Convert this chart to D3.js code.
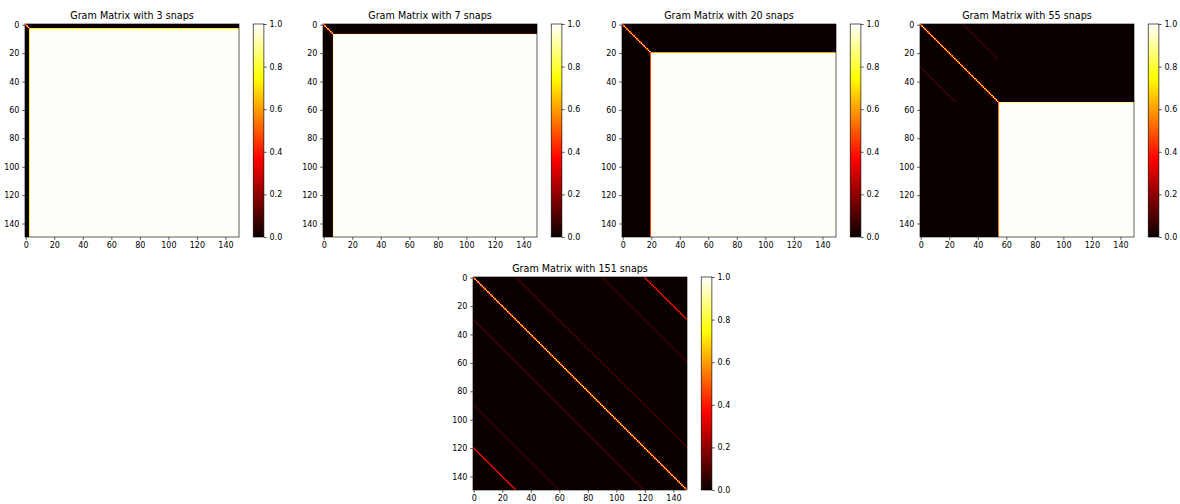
<!DOCTYPE html>
<html>
<head>
<meta charset="utf-8">
<script src="https://cdn.jsdelivr.net/npm/d3@7"></script>
<style>
  html, body { margin: 0; padding: 0; background: #ffffff; }
  svg { display: block; }
  text { font-family: "DejaVu Sans", sans-serif; }
</style>
</head>
<body>
<svg id="chart" width="1180" height="504"></svg>
<script>
// ---------------- data ----------------
const snapCounts = [3, 7, 20, 55, 151];          // snapshots per panel
const matrixSize = 150;                           // rows / columns of every Gram matrix
const bandOffsets = [0, 30, 90, 120];             // |i - j| of the non-zero bands in the snapshot block
const bandValues  = [1.0, 0.12, 0.11, 0.5];       // value of each band
const outsideValue = 0.0;                         // rows/cols mixing snapshot and padding
const paddingValue = 0.995;                       // padding block (i, j >= snaps)
const axisTicks = [0, 20, 40, 60, 80, 100, 120, 140];
const colorTicks = [0.0, 0.2, 0.4, 0.6, 0.8, 1.0];
const hotStops = [0, 0.365079, 0.746032, 1];
const hotColors = ["#0b0000", "#ff0000", "#ffff00", "#ffffff"];

// ---------------- layout ----------------
const W = 214, H = 213;
const panels = [
  {left: 25,  top: 24},
  {left: 323, top: 24},
  {left: 622, top: 24},
  {left: 920, top: 24},
  {left: 473, top: 277}
];
const cbGap = 14.2, cbWidth = 10.7;
const tickLen = 2.8, tickPad = 2.8, lw = 0.64;

const svg = d3.select("#chart");
const hot = d3.scaleLinear().domain(hotStops).range(hotColors).interpolate(d3.interpolateRgb).clamp(true);

// colorbar gradient
const defs = svg.append("defs");
const grad = defs.append("linearGradient").attr("id", "hotgrad")
  .attr("x1", 0).attr("y1", 1).attr("x2", 0).attr("y2", 0);
grad.selectAll("stop").data(hotStops).join("stop")
  .attr("offset", d => d)
  .attr("stop-color", d => hot(d));

function gramValue(n, i, j) {
  if (i < n && j < n) {
    const k = bandOffsets.indexOf(Math.abs(i - j));
    return k >= 0 ? bandValues[k] : 0;
  }
  if (i >= n && j >= n) return paddingValue;
  return outsideValue;
}

function buildMatrix(n) {
  const M = new Float32Array(matrixSize * matrixSize);
  for (let i = 0; i < matrixSize; i++)
    for (let j = 0; j < matrixSize; j++)
      M[i * matrixSize + j] = gramValue(n, i, j);
  return M;
}

// hanning interpolation weights for a sample at data coordinate t
function weights(t) {
  const i0 = Math.floor(t);
  const f = t - i0;
  const w0 = 0.5 + 0.5 * Math.cos(Math.PI * f);
  const a = Math.max(0, Math.min(matrixSize - 1, i0));
  const b = Math.max(0, Math.min(matrixSize - 1, i0 + 1));
  return [[a, w0], [b, 1 - w0]];
}

function renderImage(M, xScale, yScale) {
  const canvas = document.createElement("canvas");
  canvas.width = W; canvas.height = H;
  const ctx = canvas.getContext("2d");
  const img = ctx.createImageData(W, H);
  const wx = d3.range(W).map(px => weights(xScale.invert(px + 0.5)));
  const wy = d3.range(H).map(py => weights(yScale.invert(py + 0.5)));
  for (let py = 0; py < H; py++) {
    for (let px = 0; px < W; px++) {
      let v = 0;
      for (const [r, a] of wy[py])
        for (const [c, b] of wx[px])
          v += a * b * M[r * matrixSize + c];
      const col = d3.rgb(hot(v));
      const o = (py * W + px) * 4;
      img.data[o] = col.r; img.data[o + 1] = col.g; img.data[o + 2] = col.b; img.data[o + 3] = 255;
    }
  }
  ctx.putImageData(img, 0, 0);
  return canvas.toDataURL();
}

function styleAxis(g) {
  g.select(".domain").remove();
  g.selectAll(".tick line").attr("stroke", "#000").attr("stroke-width", lw);
  g.selectAll(".tick text").attr("fill", "#000").style("font-size", "8px")
    .style("font-family", "'DejaVu Sans', sans-serif");
}

snapCounts.forEach((n, idx) => {
  const p = panels[idx];
  const g = svg.append("g").attr("transform", `translate(${p.left},${p.top})`);
  const xScale = d3.scaleLinear().domain([-0.5, matrixSize - 0.5]).range([0, W]);
  const yScale = d3.scaleLinear().domain([-0.5, matrixSize - 0.5]).range([0, H]);

  const M = buildMatrix(n);
  g.append("image")
    .attr("x", 0).attr("y", 0).attr("width", W).attr("height", H)
    .attr("preserveAspectRatio", "none")
    .style("image-rendering", "pixelated")
    .attr("href", renderImage(M, xScale, yScale));

  g.append("rect").attr("width", W).attr("height", H)
    .attr("fill", "none").attr("stroke", "#000").attr("stroke-width", lw);

  g.append("g").attr("transform", `translate(0,${H})`)
    .call(d3.axisBottom(xScale).tickValues(axisTicks).tickSize(tickLen).tickPadding(tickPad).tickFormat(d3.format("d")))
    .call(styleAxis);
  g.append("g")
    .call(d3.axisLeft(yScale).tickValues(axisTicks).tickSize(tickLen).tickPadding(tickPad).tickFormat(d3.format("d")))
    .call(styleAxis);

  g.append("text")
    .attr("x", W / 2).attr("y", -4.8)
    .attr("text-anchor", "middle")
    .style("font-size", "9.6px").attr("fill", "#000")
    .text(`Gram Matrix with ${n} snaps`);

  // colorbar
  const cb = g.append("g").attr("transform", `translate(${W + cbGap},0)`);
  const cScale = d3.scaleLinear().domain([0, 1]).range([H, 0]);
  cb.append("rect").attr("width", cbWidth).attr("height", H).attr("fill", "url(#hotgrad)");
  cb.append("rect").attr("width", cbWidth).attr("height", H)
    .attr("fill", "none").attr("stroke", "#000").attr("stroke-width", lw);
  cb.append("g").attr("transform", `translate(${cbWidth},0)`)
    .call(d3.axisRight(cScale).tickValues(colorTicks).tickSize(tickLen).tickPadding(tickPad).tickFormat(d3.format(".1f")))
    .call(styleAxis);
});
</script>
</body>
</html>
